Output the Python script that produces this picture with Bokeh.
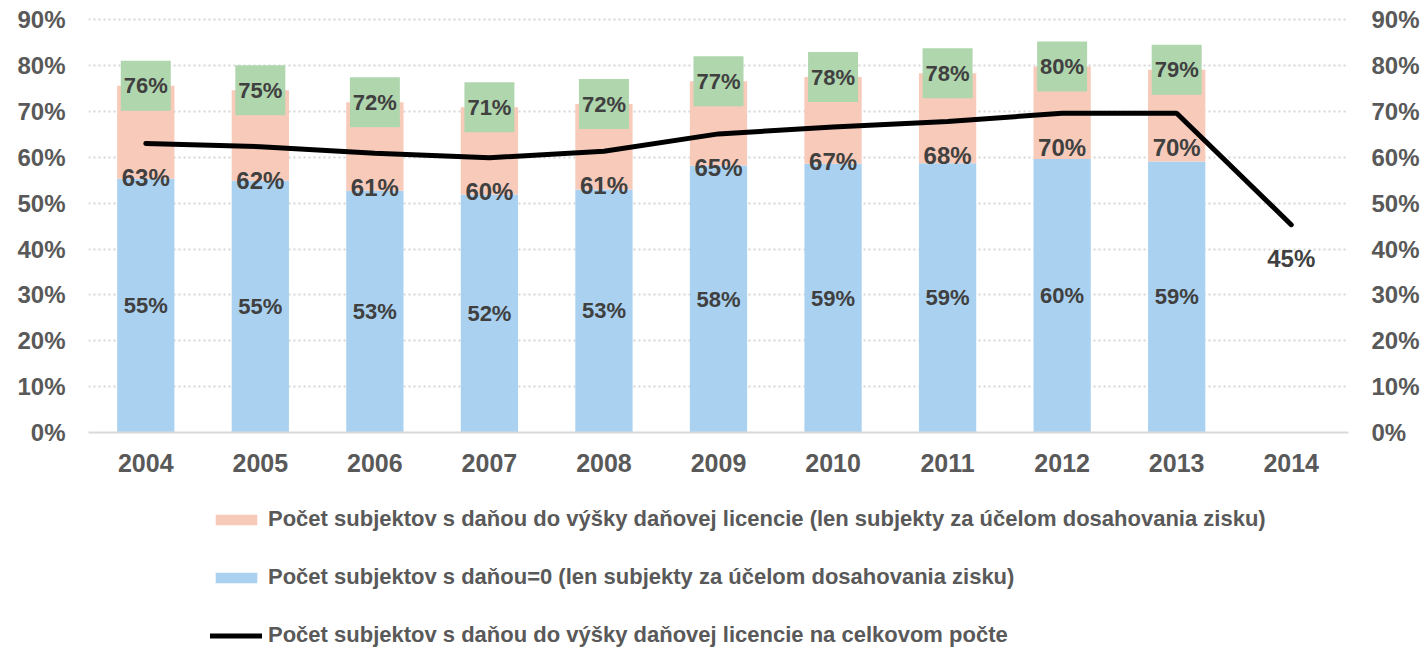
from bokeh.plotting import figure
from bokeh.layouts import column
from bokeh.models import (ColumnDataSource, LinearAxis, Legend, LegendItem, FactorRange,
                          Range1d, FixedTicker, PrintfTickFormatter)
from bokeh.core.properties import value
from bokeh.embed import file_html
from bokeh.resources import INLINE

years = ["2004", "2005", "2006", "2007", "2008", "2009", "2010", "2011", "2012", "2013", "2014"]
bar_years = years[:10]
zero_tax = [55.3, 54.9, 52.7, 51.9, 53.0, 58.2, 58.6, 58.7, 59.6, 59.1]
licence_total = [75.6, 74.6, 72.0, 70.9, 71.6, 76.6, 77.5, 78.3, 79.8, 79.1]
licence_share = [63.0, 62.3, 60.9, 59.9, 61.3, 65.1, 66.6, 67.8, 69.6, 69.6, 45.3]
y_ticks = [0, 10, 20, 30, 40, 50, 60, 70, 80, 90]

label_pink = "Počet subjektov s daňou do výšky daňovej licencie (len subjekty za účelom dosahovania zisku)"
label_blue = "Počet subjektov s daňou=0 (len subjekty za účelom dosahovania zisku)"
label_line = "Počet subjektov s daňou do výšky daňovej licencie na celkovom počte"

FONT_NAME = "Liberation Sans"
FONT = value(FONT_NAME)
DARK = "#404040"
GREY = "#595959"
PINK = "#F8CABA"
BLUE = "#AAD2F0"
GREEN = "#B0D6AE"

bars = ColumnDataSource(dict(
    x=bar_years,
    zero=zero_tax,
    zero_mid=[v / 2 for v in zero_tax],
    total=licence_total,
    zero_lbl=["%d%%" % round(v) for v in zero_tax],
    total_lbl=["%d%%" % round(v) for v in licence_total],
))
line_src = ColumnDataSource(dict(
    x=years,
    y=licence_share,
    lbl=["%d%%" % round(v) for v in licence_share],
))

p = figure(x_range=FactorRange(*years), y_range=Range1d(0, 92),
           width=1425, height=490, output_backend="svg", toolbar_location=None,
           min_border_left=88, min_border_right=77, min_border_top=10, min_border_bottom=58)
p.outline_line_color = None
p.background_fill_color = "white"
p.border_fill_color = "white"

p.vbar(x="x", top="zero", bottom=0, width=0.5, source=bars, fill_color=BLUE, line_color=None)
p.vbar(x="x", top="total", bottom="zero", width=0.5, source=bars, fill_color=PINK, line_color=None)
p.line(x="x", y="y", source=line_src, line_color="black", line_width=5, line_cap="round")
p.rect(x="x", y="total", width=50, height=50, width_units="screen", height_units="screen",
       source=bars, fill_color=GREEN, line_color=None)

common = dict(text_align="center", text_baseline="middle", text_font=FONT,
              text_font_style="bold", text_color=DARK)
p.text(x="x", y="zero_mid", text="zero_lbl", source=bars, text_font_size="22px", **common)
p.text(x="x", y="total", text="total_lbl", source=bars, text_font_size="22px", **common)
p.text(x="x", y="y", text="lbl", source=line_src, y_offset=34, text_font_size="24px", **common)

ticker = FixedTicker(ticks=y_ticks)
fmt = PrintfTickFormatter(format="%d%%")
p.yaxis.ticker = ticker
p.yaxis.formatter = fmt
right = LinearAxis(ticker=ticker, formatter=fmt)
p.add_layout(right, "right")

for ax in [p.yaxis[0], right]:
    ax.axis_line_color = None
    ax.major_tick_line_color = None
    ax.minor_tick_line_color = None
    ax.major_tick_out = 0
    ax.minor_tick_out = 0
    ax.major_label_text_font = FONT_NAME
    ax.major_label_text_font_style = "bold"
    ax.major_label_text_font_size = "24px"
    ax.major_label_text_color = GREY
    ax.major_label_standoff = 23

p.xaxis.axis_line_color = "#D9D9D9"
p.xaxis.axis_line_width = 2
p.xaxis.major_tick_line_color = None
p.xaxis.minor_tick_line_color = None
p.xaxis.major_tick_out = 0
p.xaxis.minor_tick_out = 0
p.xaxis.major_label_text_font = FONT_NAME
p.xaxis.major_label_text_font_style = "bold"
p.xaxis.major_label_text_font_size = "25px"
p.xaxis.major_label_text_color = GREY
p.xaxis.major_label_standoff = 21

p.xgrid.grid_line_color = None
p.ygrid.ticker = ticker
p.ygrid.grid_line_color = "#D5D5D5"
p.ygrid.grid_line_width = 2
p.ygrid.grid_line_dash = "2 3"

# legend panel: same data drawn out of view, only its legend is visible
lg = figure(width=1425, height=158, output_backend="svg", toolbar_location=None,
            x_range=FactorRange(*years), y_range=Range1d(500, 600),
            x_axis_type=None, y_axis_type=None,
            min_border_left=88, min_border_right=77, min_border_top=0, min_border_bottom=0)
lg.outline_line_color = None
lg.xgrid.visible = False
lg.ygrid.visible = False
g_pink = lg.vbar(x="x", top="total", bottom="zero", width=0.5, source=bars,
                 fill_color=PINK, line_color=None)
g_blue = lg.vbar(x="x", top="zero", bottom=0, width=0.5, source=bars,
                 fill_color=BLUE, line_color=None)
g_line = lg.line(x="x", y="y", source=line_src, line_color="black", line_width=5,
                 line_cap="round")

legend = Legend(items=[
    LegendItem(label=label_pink, renderers=[g_pink]),
    LegendItem(label=label_blue, renderers=[g_blue]),
    LegendItem(label=label_line, renderers=[g_line]),
], location=(122, 0), orientation="vertical")
legend.padding = 0
legend.margin = 0
legend.spacing = 32
legend.glyph_width = 52
legend.glyph_height = 13
legend.label_height = 24
legend.label_standoff = 6
legend.border_line_color = None
legend.background_fill_alpha = 0
legend.label_text_font = FONT_NAME
legend.label_text_font_style = "bold"
legend.label_text_font_size = "22px"
legend.label_text_color = GREY
lg.add_layout(legend, "center")

layout = column(p, lg, spacing=0)
open("out.html", "w").write(file_html(layout, INLINE))
